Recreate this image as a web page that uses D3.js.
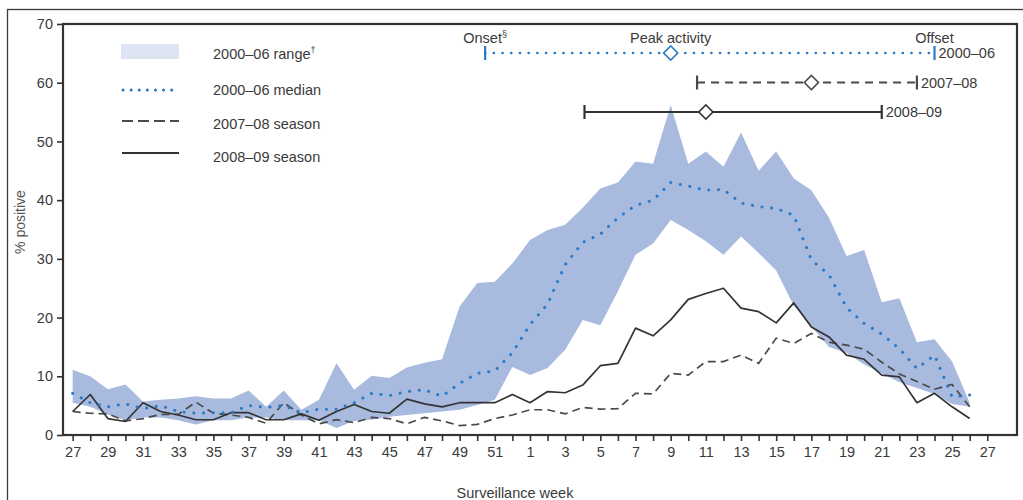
<!DOCTYPE html>
<html>
<head>
<meta charset="utf-8">
<script src="https://cdn.jsdelivr.net/npm/d3@7"></script>
<style>
  body { margin: 0; background: #fff; }
  svg text { font-family: "Liberation Sans", Arial, sans-serif; fill: #3a3a3a; }
</style>
</head>
<body>
<div id="chart"></div>
<script>
// surveillance weeks, week 27 to week 27 of the next year
var weekLabels = [27,28,29,30,31,32,33,34,35,36,37,38,39,40,41,42,43,44,45,46,47,48,49,50,51,52,
                  1,2,3,4,5,6,7,8,9,10,11,12,13,14,15,16,17,18,19,20,21,22,23,24,25,26,27];
var yTicks = [0,10,20,30,40,50,60,70];

// % positive, weeks 27..52 then 1..26
var rangeLow  = [5.5,4.8,3.5,2.5,3,3,2.5,1.8,2.5,2.5,3,3,2.5,2.5,2.5,1.2,2.4,2.6,3.1,3.4,3.7,4.0,4.3,5.1,6,11.6,
                 10.2,11.4,14.5,19.6,18.7,24.5,30.7,32.6,36.6,34.9,33,30.7,33.8,31,28,22,18.5,15,14,12,10.5,9,8,7,5.3,4.8];
var rangeHigh = [11.1,10,7.8,8.6,5.7,6,6.2,6.6,6.2,6.2,7.6,4.8,7.6,4.3,6,12.2,7.7,10.1,9.7,11.5,12.3,12.9,21.9,25.9,26.1,29.2,
                 33.2,34.9,35.8,38.7,42,43,46.6,46.2,56.2,46.2,48.3,45.7,51.5,45,48.3,43.7,41.7,37,30.5,31.5,22.6,23.3,15.8,16.3,12.5,5.5];
var median0006 = [7.1,5.5,4.8,5.3,4.5,5.0,4.0,3.7,3.8,3.8,5.0,4.7,5.0,3.8,4.4,4.4,5.5,7.1,6.7,7.4,7.7,6.6,8.8,10.5,10.9,14.0,
                  18.8,22.3,29,32.8,34.2,37,39.1,40,43,42.4,41.7,41.8,39.5,38.9,38.6,37.4,29.8,27.3,21.7,19,17.2,14.7,11.3,13.6,6.5,6.8];
var season0708 = [4,3.7,3.6,2.4,2.8,3.5,3.5,5.6,3.7,3.4,3.0,2.0,5.5,3.4,1.9,2.6,2.1,3.0,2.8,1.9,3.0,2.4,1.6,1.8,2.8,3.4,
                  4.3,4.3,3.6,4.7,4.4,4.5,7.1,7,10.5,10.2,12.5,12.5,13.6,12.2,16.5,15.6,17.3,15.8,15.3,14.6,12.4,10.4,9.1,7.8,8.6,4.8];
var season0809 = [4,6.9,2.8,2.3,5.5,4,3.4,2.6,2.6,3.8,3.8,2.6,2.6,3.6,2.5,4,5.2,4,3.7,6.1,5.3,4.8,5.5,5.5,5.5,6.9,
                  5.5,7.4,7.2,8.5,11.8,12.2,18.2,16.9,19.6,23.1,24.1,25,21.6,21,19.1,22.5,18.4,16.7,13.6,12.9,10.2,9.9,5.5,7.1,4.8,2.8];

// onset / peak / offset, as position in the week list above
var timelineSeasons = ["2000–06","2007–08","2008–09"];
var onsetPos  = [23.45, 35.5, 29.1];
var peakPos   = [34, 42, 36];
var offsetPos = [49, 48, 46];

var W = 1023, H = 500;
var plot = {l: 63, t: 24, r: 1017, b: 435};

var svg = d3.select('#chart').append('svg')
    .attr('width', W)
    .attr('height', H);

var blue = "#2a7bc6", ink = "#333", dashInk = "#4a4a4a";

var x = d3.scaleLinear().domain([-0.55, weekLabels.length - 1 + 1.69]).range([plot.l, plot.r]);
var y = d3.scaleLinear().domain([0, 70]).range([plot.b, plot.t]);

// outer figure border
svg.append("rect")
    .attr("x", 7.5).attr("y", 9.5)
    .attr("width", 1040).attr("height", 600)
    .attr("fill", "none").attr("stroke", "#3a3a3a").attr("stroke-width", 1.3);

// range band
var area = d3.area()
    .x(function(d, i){ return x(i); })
    .y0(function(d, i){ return y(rangeLow[i]); })
    .y1(function(d){ return y(d); });

svg.append("path")
    .datum(rangeHigh)
    .attr("d", area)
    .attr("fill", "#a9badf");

var line = d3.line().x(function(d, i){ return x(i); }).y(function(d){ return y(d); });

svg.append("path").datum(season0708)
    .attr("d", line)
    .attr("fill", "none").attr("stroke", dashInk).attr("stroke-width", 1.7)
    .attr("stroke-dasharray", "8,5");

svg.append("path").datum(season0809)
    .attr("d", line)
    .attr("fill", "none").attr("stroke", ink).attr("stroke-width", 1.7)
    .attr("stroke-linejoin", "round");

svg.append("path").datum(median0006)
    .attr("d", line)
    .attr("fill", "none").attr("stroke", blue).attr("stroke-width", 3)
    .attr("stroke-linecap", "round")
    .attr("stroke-dasharray", "0.1,9.6");

// axes
var xAxis = d3.axisBottom(x)
    .tickValues(d3.range(weekLabels.length))
    .tickSize(6).tickPadding(6)
    .tickFormat(function(i){ return i % 2 === 0 ? weekLabels[i] : ""; });

var yAxis = d3.axisLeft(y).tickValues(yTicks).tickSize(6).tickPadding(4);

var gx = svg.append("g")
    .attr("transform", "translate(0," + plot.b + ")")
    .call(xAxis);
var gy = svg.append("g")
    .attr("transform", "translate(" + plot.l + ",0)")
    .call(yAxis);

[gx, gy].forEach(function(g){
    g.select(".domain").remove();
    g.selectAll(".tick line").attr("stroke", ink).attr("stroke-width", 1.6);
    g.selectAll(".tick text").attr("font-size", 14.5).attr("fill", "#3a3a3a")
        .style("font-family", '"Liberation Sans", Arial, sans-serif');
});

// plot frame
svg.append("rect")
    .attr("x", plot.l).attr("y", plot.t)
    .attr("width", plot.r - plot.l).attr("height", plot.b - plot.t)
    .attr("fill", "none").attr("stroke", ink).attr("stroke-width", 2.2);

// axis titles
svg.append("text")
    .attr("transform", "translate(25,222) rotate(-90)")
    .attr("text-anchor", "middle")
    .attr("font-size", 14)
    .style("fill", "#555")
    .text("% positive");

svg.append("text")
    .attr("x", 515).attr("y", 498)
    .attr("text-anchor", "middle")
    .attr("font-size", 14.5)
    .text("Surveillance week");

// legend
var legend = svg.append("g").attr("font-size", 14.5);
legend.append("rect")
    .attr("x", 121).attr("y", 44).attr("width", 58).attr("height", 15)
    .attr("fill", "#dde4f2");
legend.append("line").attr("x1", 123).attr("x2", 179).attr("y1", 90).attr("y2", 90)
    .attr("stroke", blue).attr("stroke-width", 3).attr("stroke-linecap", "round")
    .attr("stroke-dasharray", "0.1,8");
legend.append("line").attr("x1", 122).attr("x2", 179).attr("y1", 121).attr("y2", 121)
    .attr("stroke", dashInk).attr("stroke-width", 1.8).attr("stroke-dasharray", "11,5");
legend.append("line").attr("x1", 122).attr("x2", 179).attr("y1", 153).attr("y2", 153)
    .attr("stroke", ink).attr("stroke-width", 1.8);

var lt = legend.append("text").attr("x", 213).attr("y", 58.5);
lt.append("tspan").text("2000–06 range");
lt.append("tspan").attr("font-size", 9).attr("dy", -6).text("†");
legend.append("text").attr("x", 213).attr("y", 95).text("2000–06 median");
legend.append("text").attr("x", 213).attr("y", 128.5).text("2007–08 season");
legend.append("text").attr("x", 213).attr("y", 161.5).text("2008–09 season");

// onset / peak / offset timelines
var rowY = d3.scalePoint().domain(timelineSeasons).range([53, 112]);
var rowColor = [blue, dashInk, ink];
var rowDash = ["0.1,8.6", "8,6", null];

timelineSeasons.forEach(function(s, k){
    var yy = rowY(s);
    var g = svg.append("g");
    var ln = g.append("line")
        .attr("x1", x(onsetPos[k])).attr("x2", x(offsetPos[k]))
        .attr("y1", yy).attr("y2", yy)
        .attr("stroke", rowColor[k]);
    if (k === 0) {
        ln.attr("stroke-width", 2.6).attr("stroke-linecap", "round").attr("stroke-dasharray", rowDash[k]);
    } else {
        ln.attr("stroke-width", 1.8);
        if (rowDash[k]) ln.attr("stroke-dasharray", rowDash[k]);
    }
    [onsetPos[k], offsetPos[k]].forEach(function(p){
        g.append("line")
            .attr("x1", x(p)).attr("x2", x(p))
            .attr("y1", yy - 7).attr("y2", yy + 7)
            .attr("stroke", rowColor[k]).attr("stroke-width", 2.2);
    });
    g.append("path")
        .attr("d", d3.symbol().type(d3.symbolSquare).size(100)())
        .attr("transform", "translate(" + x(peakPos[k]) + "," + yy + ") rotate(45)")
        .attr("fill", "#fff").attr("stroke", rowColor[k]).attr("stroke-width", 1.6);
    g.append("text")
        .attr("x", x(offsetPos[k]) + 4).attr("y", yy + 5)
        .attr("font-size", 14.5)
        .text(s);
});

var topY = 43;
var on = svg.append("text").attr("x", x(onsetPos[0])).attr("y", topY)
    .attr("text-anchor", "middle").attr("font-size", 14.5);
on.append("tspan").text("Onset");
on.append("tspan").attr("font-size", 9).attr("dy", -6).text("§");
svg.append("text").attr("x", x(peakPos[0])).attr("y", topY)
    .attr("text-anchor", "middle").attr("font-size", 14.5).text("Peak activity");
svg.append("text").attr("x", x(offsetPos[0])).attr("y", topY)
    .attr("text-anchor", "middle").attr("font-size", 14.5).text("Offset");
</script>
</body>
</html>
